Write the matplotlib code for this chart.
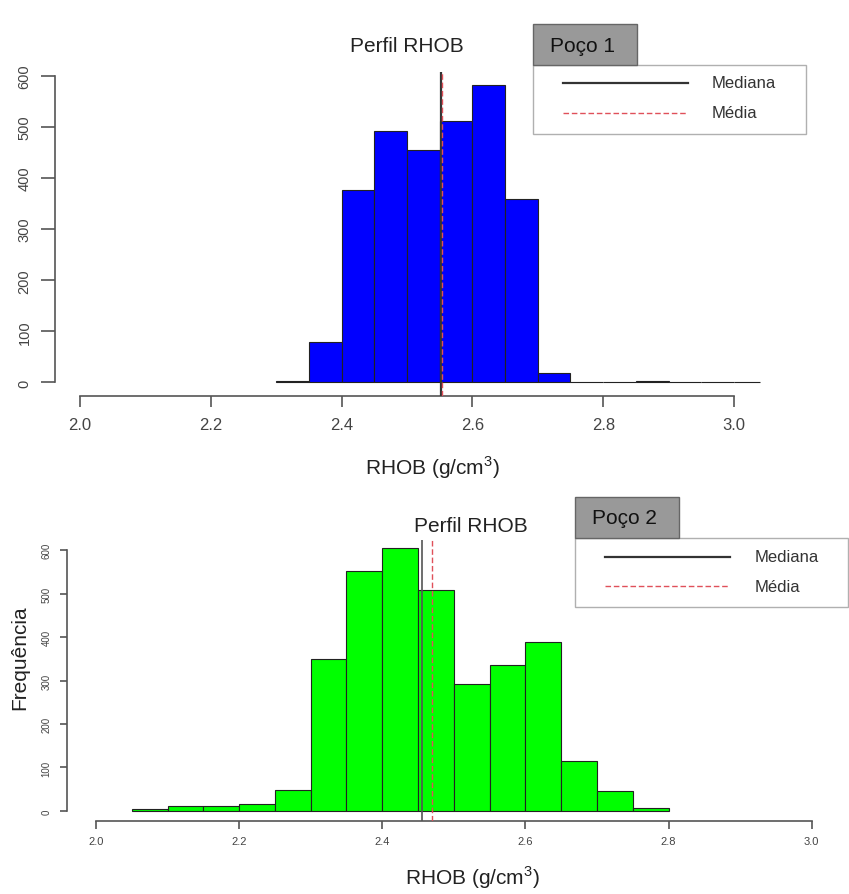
import numpy as np
import matplotlib
matplotlib.use("Agg")
import matplotlib.pyplot as plt
from matplotlib.patches import Rectangle
from matplotlib.lines import Line2D

plt.rcParams["font.family"] = ["Liberation Sans", "DejaVu Sans"]
plt.rcParams["mathtext.fontset"] = "custom"
plt.rcParams["mathtext.rm"] = "Liberation Sans"

# Poço 1 - histogram (bins of 0.05 g/cm3)
edges1 = [2.30, 2.35, 2.40, 2.45, 2.50, 2.55, 2.60, 2.65, 2.70, 2.75, 2.80, 2.85, 2.90, 2.95, 3.00, 3.04]
counts1 = [3, 80, 376, 491, 455, 512, 582, 359, 18, 0, 0, 2, 0, 0, 0]
median1, mean1 = 2.552, 2.553

# Poço 2
edges2 = [2.05, 2.10, 2.15, 2.20, 2.25, 2.30, 2.35, 2.40, 2.45, 2.50, 2.55, 2.60, 2.65, 2.70, 2.75, 2.80]
counts2 = [5, 11, 12, 17, 48, 350, 552, 605, 507, 293, 335, 388, 115, 45, 8]
median2, mean2 = 2.455, 2.469

xticks = [2.0, 2.2, 2.4, 2.6, 2.8, 3.0]
yticks = [0, 100, 200, 300, 400, 500, 600]

W, H = 849, 895
fig = plt.figure(figsize=(W / 100, H / 100), dpi=100)


def fx(px):
    return px / W


def fy(py):
    return 1 - py / H


axis_col = "#555555"
tick_col = "#444444"


def panel(rect, edges, counts, color, med, mean, xlim, ylim, xfs, yfs, xpad, ypad, xlen, ylen, medcol, medlw):
    ax = fig.add_axes(rect)
    widths = np.diff(edges)
    ax.bar(edges[:-1], counts, width=widths, align="edge", color=color,
           edgecolor="#222222", linewidth=0.8, zorder=2)
    ax.axvline(med, color=medcol, lw=medlw, zorder=3)
    ax.axvline(mean, color="#e0505a", lw=1.0, ls=(0, (4, 2)), zorder=4)
    ax.set_xlim(*xlim)
    ax.set_ylim(*ylim)
    for s in ["top", "right"]:
        ax.spines[s].set_visible(False)
    ax.spines["bottom"].set_bounds(2.0, 3.0)
    ax.spines["left"].set_bounds(0, 600)
    for s in ["bottom", "left"]:
        ax.spines[s].set_color(axis_col)
        ax.spines[s].set_linewidth(1.2)
    ax.set_xticks(xticks)
    ax.set_xticklabels([f"{t:.1f}" for t in xticks])
    ax.set_yticks(yticks)
    ax.set_yticklabels([str(t) for t in yticks], rotation=90, va="center")
    ax.tick_params(axis="x", colors=axis_col, labelcolor=tick_col, labelsize=xfs,
                   pad=xpad, length=xlen, width=1.2)
    ax.tick_params(axis="y", colors=axis_col, labelcolor=tick_col, labelsize=yfs,
                   pad=ypad, length=ylen, width=1.2)
    ax.patch.set_alpha(0)
    return ax


# top panel
ax1 = panel([fx(55), fy(397), fx(806) - fx(55), fy(73) - fy(397)],
            edges1, counts1, "#0000ff", median1, mean1,
            (1.962, 3.110), (-26.4, 607), 12, 10.5, 7, 7, 8, 10, "#333333", 1.6)

# bottom panel
ax2 = panel([fx(67), fy(822), fx(848) - fx(67), fy(541) - fy(822)],
            edges2, counts2, "#00ff00", median2, mean2,
            (1.9595, 3.0508), (-23, 623), 8, 7, 5, 6, 6, 5, "#555555", 1.2)


def xlabel(x, y):
    # R style label: superscript almost full size
    t = fig.text(fx(x), fy(y), "RHOB (g/cm$^{\\mathregular{3}}$)", fontsize=15,
                 ha="center", va="center", color="#222222")
    return t


# titles and labels
fig.text(fx(407), fy(46), "Perfil RHOB", fontsize=15, ha="center", va="center", color="#222222")
fig.text(fx(471), fy(526), "Perfil RHOB", fontsize=15, ha="center", va="center", color="#222222")
xlabel(432, 468)
xlabel(472, 878)
fig.text(fx(20), fy(658), "Frequência", fontsize=15, rotation=90, ha="center", va="center", color="#222222")


def legend(title, x0, y0, x1, y1, ly1, ly2, lx0, lx1, tx, ttx):
    fig.add_artist(Rectangle((fx(x0), fy(y1)), fx(x1) - fx(x0), fy(y0) - fy(y1),
                             transform=fig.transFigure, facecolor="white",
                             edgecolor="#b0b0b0", lw=1.0))
    fig.add_artist(Rectangle((fx(x0), fy(y0)), fx(x0 + 104) - fx(x0), fy(y0 - 41) - fy(y0),
                             transform=fig.transFigure, facecolor="#999999",
                             edgecolor="#666666", lw=1.0))
    fig.text(fx(ttx), fy(y0 - 20), title, fontsize=15, ha="left", va="center", color="#111111")
    fig.add_artist(Line2D([fx(lx0), fx(lx1)], [fy(ly1), fy(ly1)], transform=fig.transFigure,
                          color="#333333", lw=1.6))
    fig.add_artist(Line2D([fx(lx0), fx(lx1)], [fy(ly2), fy(ly2)], transform=fig.transFigure,
                          color="#e0505a", lw=1.0, ls=(0, (4, 2))))
    fig.text(fx(tx), fy(ly1), "Mediana", fontsize=12, ha="left", va="center", color="#333333")
    fig.text(fx(tx), fy(ly2), "Média", fontsize=12, ha="left", va="center", color="#333333")


legend("Poço 1", 533, 66, 806, 135, 84, 114, 563, 688, 712, 550)
legend("Poço 2", 575, 539, 848, 608, 558, 587, 605, 730, 755, 592)

fig.savefig("out.png", dpi=100)
